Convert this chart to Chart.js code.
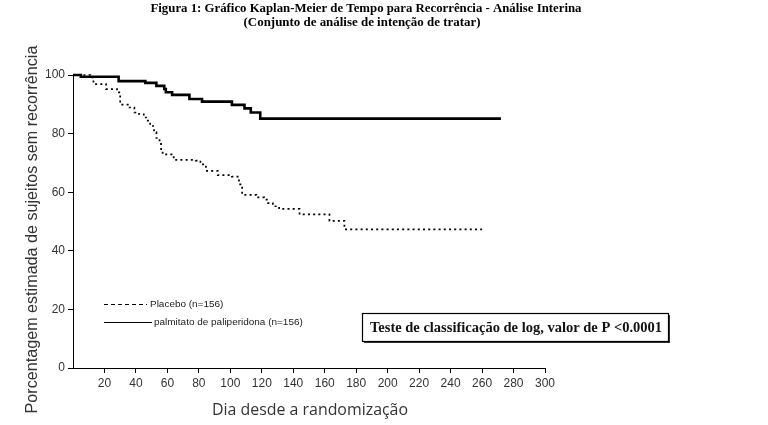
<!DOCTYPE html>
<html><head><meta charset="utf-8">
<script src="https://cdn.jsdelivr.net/npm/chart.js@4.4.0/dist/chart.umd.min.js"></script>
<style>html,body{margin:0;padding:0;background:#fff;} #wrap{width:768px;height:425px;}</style>
</head><body><div id="wrap"><canvas id="c" width="768" height="425"></canvas></div>
<script>
const titleLines = ["Figura 1: Gráfico Kaplan-Meier de Tempo para Recorrência - Análise Interina", "(Conjunto de análise de intenção de tratar)"];
const xAxisTitle = "Dia desde a randomização";
const yAxisTitle = "Porcentagem estimada de sujeitos sem recorrência";
const xTicks = [20, 40, 60, 80, 100, 120, 140, 160, 180, 200, 220, 240, 260, 280, 300];
const yTicks = [0, 20, 40, 60, 80, 100];
const seriesNames = ["Placebo (n=156)", "palmitato de paliperidona (n=156)"];
const noteText = "Teste de classificação de log, valor de P <0.0001";

const placeboDays = [0, 11, 13, 21, 28, 30, 36, 39, 42, 45, 47.5, 49, 51.5, 53, 55, 56, 57, 64, 78, 81, 84.5, 92, 101, 105.5, 107.5, 116.5, 121.5, 124, 127, 131, 144, 163, 172.5, 260];
const placeboSurv = [100, 99.2, 96.9, 95.2, 94.1, 89.9, 88.9, 87.2, 86.6, 85.5, 84.4, 82.6, 80.5, 78.5, 76.5, 73.5, 72.9, 71.0, 70.8, 69.5, 67.3, 65.8, 65.3, 62.7, 59.1, 58.2, 57.5, 56.3, 55.2, 54.3, 52.4, 50.2, 47.3, 47.3];

const paliDays = [0, 5, 29, 46, 53, 58, 59, 63, 74, 82, 101, 109, 113, 119, 272];
const paliSurv = [100, 99.4, 97.9, 97.3, 96.3, 95.2, 94.1, 93.2, 91.8, 90.9, 89.8, 88.6, 87.2, 85.1, 85.1];

function fitFont(ctx, text, weight, family, target) {
  ctx.font = weight + ' 20px ' + family;
  const w = ctx.measureText(text).width;
  const size = 20 * target / w;
  ctx.font = weight + ' ' + size.toFixed(2) + 'px ' + family;
  return size;
}

const decor = {
  id: 'decor',
  afterDraw(chart) {
    const ctx = chart.ctx;
    ctx.save();
    // Title
    ctx.fillStyle = '#000';
    ctx.textAlign = 'center';
    ctx.textBaseline = 'middle';
    fitFont(ctx, titleLines[0], 'bold', '"Liberation Serif"', 431);
    ctx.fillText(titleLines[0], 366, 9);
    fitFont(ctx, titleLines[1], 'bold', '"Liberation Serif"', 237);
    ctx.fillText(titleLines[1], 362, 23);

    // Y axis title
    ctx.save();
    ctx.fillStyle = '#333';
    ctx.translate(33, 229.5);
    ctx.rotate(-Math.PI / 2);
    fitFont(ctx, yAxisTitle, 'normal', '"Liberation Sans"', 368);
    ctx.fillText(yAxisTitle, 0, 0);
    ctx.restore();

    // X axis title
    ctx.fillStyle = '#333';
    fitFont(ctx, xAxisTitle, 'normal', '"Open Sans"', 196);
    ctx.fillText(xAxisTitle, 310, 410);

    // Legend
    ctx.strokeStyle = '#000';
    ctx.lineWidth = 1;
    ctx.setLineDash([4, 3]);
    ctx.beginPath(); ctx.moveTo(104, 304.5); ctx.lineTo(147, 304.5); ctx.stroke();
    ctx.setLineDash([]);
    ctx.beginPath(); ctx.moveTo(104, 322.5); ctx.lineTo(152, 322.5); ctx.stroke();
    ctx.fillStyle = '#222';
    ctx.textAlign = 'left';
    const lsize = fitFont(ctx, seriesNames[1], 'normal', '"Liberation Sans"', 149);
    ctx.fillText(seriesNames[1], 154, 322.5);
    ctx.font = 'normal ' + lsize.toFixed(2) + 'px "Liberation Sans"';
    ctx.fillText(seriesNames[0], 150, 304.5);

    // Note box
    const bx = 362, by = 313, bw = 306, bh = 28;
    ctx.fillStyle = '#fff';
    ctx.fillRect(bx, by, bw, bh);
    ctx.fillStyle = '#333';
    ctx.fillRect(bx + bw, by + 2, 2, bh);
    ctx.fillRect(bx + 2, by + bh, bw, 2);
    ctx.strokeStyle = '#000';
    ctx.lineWidth = 1.2;
    ctx.strokeRect(bx + 0.5, by + 0.5, bw, bh);
    ctx.fillStyle = '#111';
    ctx.textAlign = 'center';
    fitFont(ctx, noteText, 'bold', '"Liberation Serif"', 292);
    ctx.fillText(noteText, bx + bw / 2 + 1, by + bh / 2 + 1);
    ctx.restore();
  }
};

const axisCommon = {
  grid: { drawOnChartArea: false, drawTicks: true, tickLength: 5, color: '#000', lineWidth: 1 },
  border: { display: true, color: '#000', width: 1 },
  ticks: { color: '#333', font: { family: '"Liberation Sans"', size: 12 }, padding: 3, maxRotation: 0, autoSkip: false }
};

new Chart(document.getElementById('c'), {
  type: 'line',
  data: {
    datasets: [
      {
        label: seriesNames[0],
        data: placeboDays.map((d, i) => ({ x: d, y: placeboSurv[i] })),
        stepped: true, borderColor: '#000', borderWidth: 1.7, borderDash: [2, 3.2],
        pointRadius: 0, fill: false, clip: 6
      },
      {
        label: seriesNames[1],
        data: paliDays.map((d, i) => ({ x: d, y: paliSurv[i] })),
        stepped: true, borderColor: '#000', borderWidth: 2.6,
        pointRadius: 0, fill: false, clip: 6
      }
    ]
  },
  options: {
    responsive: false,
    animation: false,
    layout: { padding: { left: 0, right: 223, top: 75, bottom: 0 } },
    plugins: { legend: { display: false }, title: { display: false }, tooltip: { enabled: false } },
    scales: {
      x: Object.assign({}, axisCommon, {
        type: 'linear', min: 0, max: 300,
        afterFit: s => { s.height = 57; },
        afterBuildTicks: s => { s.ticks = xTicks.map(v => ({ value: v })); }
      }),
      y: Object.assign({}, axisCommon, {
        type: 'linear', min: 0, max: 100,
        afterFit: s => { s.width = 73; },
        afterBuildTicks: s => { s.ticks = yTicks.map(v => ({ value: v })); }
      })
    }
  },
  plugins: [decor]
});
</script>
</body></html>
